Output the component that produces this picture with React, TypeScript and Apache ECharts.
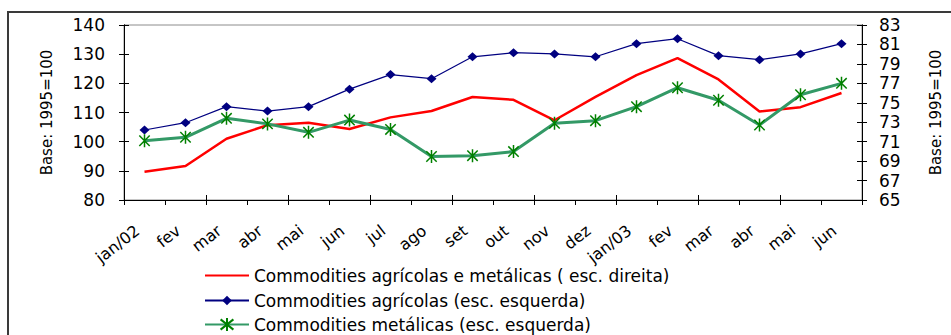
import React, { useEffect, useRef } from "react";
import * as echarts from "echarts";

// Monthly index values, base 1995 = 100
const categories = [
  "jan/02", "fev", "mar", "abr", "mai", "jun", "jul", "ago", "set",
  "out", "nov", "dez", "jan/03", "fev", "mar", "abr", "mai", "jun",
];

// right scale
const agricolasMetalicas = [
  67.9, 68.5, 71.3, 72.7, 72.95, 72.3, 73.5, 74.15, 75.6,
  75.3, 73.2, 75.6, 77.85, 79.6, 77.4, 74.1, 74.55, 76.0,
];

// left scale
const agricolas = [
  104, 106.5, 112, 110.5, 112, 118, 123, 121.6, 129.1,
  130.5, 130.1, 129.1, 133.6, 135.3, 129.5, 128.1, 130.1, 133.6,
];

// left scale
const metalicas = [
  100.3, 101.5, 108, 106.1, 103.2, 107.4, 104.2, 94.9, 95.2,
  96.6, 106.3, 107.2, 112, 118.5, 114.2, 105.7, 116.1, 120,
];

const seriesNames = [
  "Commodities agrícolas e metálicas ( esc. direita)",
  "Commodities agrícolas (esc. esquerda)",
  "Commodities metálicas (esc. esquerda)",
];

const axisTitle = "Base: 1995=100";
const rightTicks = [65, 67, 69, 71, 73, 75, 77, 79, 81, 83];

const FONT = "DejaVu Sans";
const ASTERISK = "path://M0,-10L0,10M-8,-8L8,8M-8,8L8,-8";

export default function App() {
  const ref = useRef<HTMLDivElement>(null);

  useEffect(() => {
    if (!ref.current) return;
    const chart = echarts.init(ref.current, null, { renderer: "svg" });

    const black = { lineStyle: { color: "#000", width: 1 } };

    // one legend block per row so the three entries stack in a single column
    const legendRow = (i: number, top: number, extra: object = {}) => ({
      orient: "vertical",
      left: 204,
      top,
      padding: 0,
      itemWidth: 44,
      itemHeight: 12,
      data: [seriesNames[i]],
      textStyle: { fontFamily: FONT, fontSize: 17, color: "#000" },
      ...extra,
    });

    chart.setOption({
      animation: false,
      backgroundColor: "#fff",
      textStyle: { fontFamily: FONT, color: "#000" },
      graphic: [
        {
          type: "rect",
          shape: { x: 8, y: 12, width: 1100, height: 500 },
          style: { fill: "none", stroke: "#3a3a3a", lineWidth: 2 },
          silent: true,
        },
      ],
      grid: {
        left: 124,
        right: 88,
        top: 25,
        bottom: 135,
        show: true,
        borderColor: "#8c8c8c",
        borderWidth: 1,
        backgroundColor: "transparent",
      },
      legend: [
        legendRow(0, 267, { itemStyle: { opacity: 0 } }),
        legendRow(1, 292),
        legendRow(2, 316, { itemHeight: 16 }),
      ],
      xAxis: [
        {
          type: "category",
          data: categories,
          position: "bottom",
          boundaryGap: true,
          axisLine: black,
          axisTick: { show: true, length: 5, lineStyle: { color: "#000" } },
          axisLabel: {
            interval: 0,
            rotate: 38,
            margin: 23,
            // trailing fixed-width gap pulls each rotated label a little left
            formatter: (v: string) => `{m|${v}}{s| }`,
            rich: {
              m: { fontFamily: FONT, fontSize: 16, color: "#000" },
              s: { width: 9, fontFamily: FONT, fontSize: 16 },
            },
            fontFamily: FONT,
            fontSize: 16,
            color: "#000",
          },
          splitLine: { show: false },
        },
        {
          type: "category",
          data: categories,
          position: "bottom",
          boundaryGap: true,
          axisLine: black,
          axisTick: { show: true, inside: true, length: 5, lineStyle: { color: "#000" } },
          axisLabel: { show: false },
          splitLine: { show: false },
        },
      ],
      yAxis: [
        {
          type: "value",
          position: "left",
          min: 80,
          max: 140,
          interval: 10,
          axisLine: { show: true, ...black },
          axisTick: { show: true, length: 5, lineStyle: { color: "#000" } },
          axisLabel: { margin: 19, fontFamily: FONT, fontSize: 17, color: "#000" },
          splitLine: { show: false },
          name: axisTitle,
          nameLocation: "middle",
          nameRotate: 90,
          nameGap: 70,
          nameTextStyle: { fontFamily: FONT, fontSize: 15, color: "#000" },
        },
        {
          type: "value",
          position: "right",
          min: 65,
          max: 83,
          axisLine: { show: true, ...black },
          axisTick: {
            show: true,
            length: 5,
            customValues: rightTicks,
            lineStyle: { color: "#000" },
          },
          axisLabel: {
            margin: 17,
            customValues: rightTicks,
            fontFamily: FONT,
            fontSize: 17,
            color: "#000",
          },
          splitLine: { show: false },
          name: axisTitle,
          nameLocation: "middle",
          nameRotate: 90,
          nameGap: 66,
          nameTextStyle: { fontFamily: FONT, fontSize: 15, color: "#000" },
        },
        {
          type: "value",
          position: "left",
          min: 80,
          max: 140,
          interval: 10,
          axisLine: { show: true, ...black },
          axisTick: { show: true, inside: true, length: 5, lineStyle: { color: "#000" } },
          axisLabel: { show: false },
          splitLine: { show: false },
        },
        {
          type: "value",
          position: "right",
          min: 65,
          max: 83,
          axisLine: { show: true, ...black },
          axisTick: {
            show: true,
            inside: true,
            length: 5,
            customValues: rightTicks,
            lineStyle: { color: "#000" },
          },
          axisLabel: { show: false, customValues: rightTicks },
          splitLine: { show: false },
        },
      ],
      series: [
        {
          name: seriesNames[0],
          type: "line",
          yAxisIndex: 1,
          data: agricolasMetalicas,
          symbol: "none",
          lineStyle: { color: "#ff0000", width: 2.5 },
          itemStyle: { color: "#ff0000" },
          z: 3,
        },
        {
          name: seriesNames[1],
          type: "line",
          yAxisIndex: 0,
          data: agricolas,
          symbol: "diamond",
          symbolSize: [10, 9],
          lineStyle: { color: "#000080", width: 1.2 },
          itemStyle: { color: "#000080" },
          z: 4,
        },
        {
          name: seriesNames[2],
          type: "line",
          yAxisIndex: 0,
          data: metalicas,
          symbol: ASTERISK,
          symbolSize: 13,
          symbolKeepAspect: true,
          lineStyle: { color: "#339966", width: 3 },
          itemStyle: { color: "#008000", borderColor: "#008000", borderWidth: 1.5 },
          z: 5,
        },
      ],
    });

    return () => chart.dispose();
  }, []);

  return (
    <div
      ref={ref}
      style={{ position: "absolute", left: 0, top: 0, width: 951, height: 335 }}
    />
  );
}
